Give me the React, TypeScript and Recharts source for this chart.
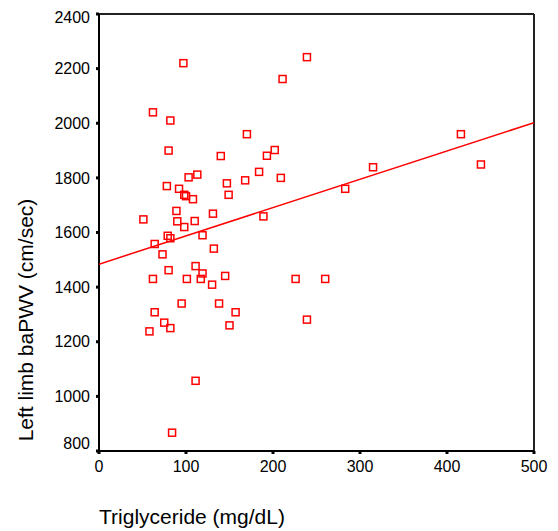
import React from 'react';
import { ScatterChart, Scatter, XAxis, YAxis, ReferenceLine, Label } from 'recharts';

const triglyceride = [97, 62, 82, 80, 140, 78, 103, 113, 92, 98, 100, 108, 147, 149, 89, 51, 90, 110, 131, 98, 119, 79, 82, 64, 73, 111, 119, 80, 132, 62, 101, 117, 130, 145, 95, 138, 64, 157, 75, 82, 58, 150, 111, 84, 239, 211, 170, 202, 193, 184, 209, 168, 315, 416, 439, 283, 189, 226, 260, 239];
const baPWV = [2220, 2040, 2010, 1900, 1880, 1770, 1802, 1812, 1760, 1738, 1733, 1722, 1780, 1738, 1679, 1648, 1641, 1642, 1669, 1620, 1590, 1588, 1579, 1558, 1520, 1477, 1450, 1462, 1541, 1430, 1430, 1430, 1409, 1441, 1340, 1340, 1308, 1308, 1270, 1250, 1238, 1260, 1057, 867, 2242, 2162, 1960, 1902, 1881, 1822, 1800, 1791, 1839, 1960, 1849, 1760, 1659, 1430, 1430, 1281];

const fitX = [0, 500];
const fitY = [1484, 2002];

const xTicks = [0, 100, 200, 300, 400, 500];
const yTicks = [800, 1000, 1200, 1400, 1600, 1800, 2000, 2200, 2400];

const points = triglyceride.map((x, i) => ({ x, y: baPWV[i] }));
const fitLine = fitX.map((x, i) => ({ x, y: fitY[i] }));

const FONT = '"Liberation Sans", Arial, sans-serif';
const RED = '#ff0000';

const SquareMarker = (props: any) => {
  const { cx, cy } = props;
  if (cx == null || cy == null) return null;
  return <rect x={cx - 3.5} y={cy - 3.5} width={7} height={7} fill="none" stroke={RED} strokeWidth={1.5} />;
};

const YTick = (props: any) => {
  const { x, y, payload } = props;
  const shift = payload.value === 800 ? -8 : 0;
  return (
    <text x={x} y={y + shift} dy="0.355em" textAnchor="end" fontSize={16} fontFamily={FONT} fill="#000">
      {payload.value}
    </text>
  );
};

const XTick = (props: any) => {
  const { x, y, payload } = props;
  return (
    <text x={x} y={y} dy="0.71em" textAnchor="middle" fontSize={16} fontFamily={FONT} fill="#000">
      {payload.value}
    </text>
  );
};

export default function App() {
  return (
    <ScatterChart width={550} height={523} margin={{ top: 6, right: 24, bottom: 50, left: 0 }}>
      <XAxis
        type="number"
        dataKey="x"
        domain={[0, 500]}
        ticks={xTicks}
        allowDataOverflow
        axisLine={{ stroke: '#000', strokeWidth: 2 }}
        tickLine={{ stroke: '#000', strokeWidth: 3 }}
        tickSize={3}
        tickMargin={7}
        tick={<XTick />}
        height={30}
      >
        <Label
          content={() => (
            <text x={91} y={516} textAnchor="start" fontSize={21} fontFamily={FONT} fill="#000">
              Triglyceride (mg/dL)
            </text>
          )}
        />
      </XAxis>
      <YAxis
        type="number"
        dataKey="y"
        domain={[800, 2400]}
        ticks={yTicks}
        allowDataOverflow
        axisLine={{ stroke: '#000', strokeWidth: 2 }}
        tickLine={{ stroke: '#000', strokeWidth: 3 }}
        tickSize={3}
        tickMargin={6}
        tick={<YTick />}
        width={91}
      >
        <Label
          content={() => (
            <text x={25} y={312} transform="rotate(-90, 25, 312)" textAnchor="middle" fontSize={21} fontFamily={FONT} fill="#000">
              Left limb baPWV (cm/sec)
            </text>
          )}
        />
      </YAxis>
      <ReferenceLine y={2400} stroke="#222" strokeWidth={2} />
      <ReferenceLine x={500} stroke="#222" strokeWidth={2} />
      <Scatter data={fitLine} line={{ stroke: RED, strokeWidth: 1.5 }} shape={() => null} isAnimationActive={false} />
      <Scatter data={points} shape={<SquareMarker />} isAnimationActive={false} />
    </ScatterChart>
  );
}
